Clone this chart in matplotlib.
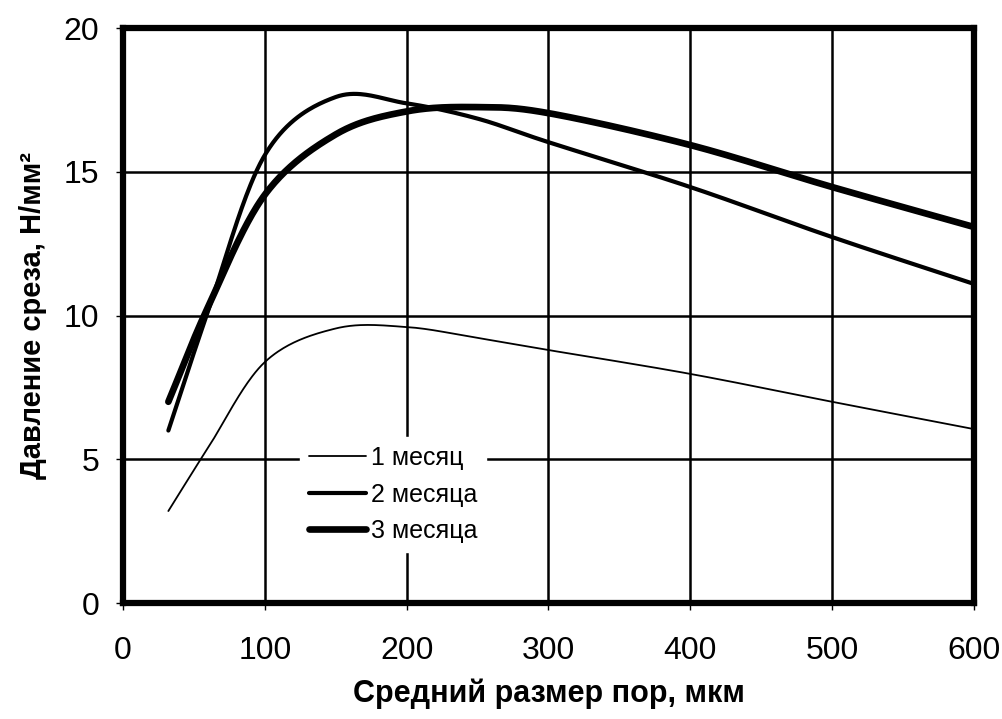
import matplotlib
matplotlib.use("Agg")
import matplotlib.pyplot as plt
import numpy as np

plt.rcParams['font.family'] = ['Liberation Sans', 'DejaVu Sans']

# values
pore_size = [32, 60, 100, 150, 200, 250, 300, 400, 500, 600]
month_1 = [3.2, 5.4, 8.38, 9.55, 9.6, 9.22, 8.8, 7.97, 7.0, 6.05]
month_2 = [6.0, 10.15, 15.58, 17.6, 17.38, 16.85, 16.03, 14.47, 12.73, 11.1]
month_3 = [7.0, 10.3, 14.2, 16.3, 17.1, 17.25, 17.04, 15.93, 14.47, 13.08]
labels = ["1 месяц", "2 месяца", "3 месяца"]
widths = [1.3, 3.0, 4.8]


# smoothed line like the spreadsheet does (Catmull-Rom through the points)
def smooth(xs, ys, n=40):
    xs = np.asarray(xs, float)
    ys = np.asarray(ys, float)
    px = np.concatenate([[2 * xs[0] - xs[1]], xs, [2 * xs[-1] - xs[-2]]])
    py = np.concatenate([[2 * ys[0] - ys[1]], ys, [2 * ys[-1] - ys[-2]]])
    outx, outy = [], []
    t = np.linspace(0, 1, n, endpoint=False)
    for i in range(1, len(px) - 2):
        for arr, out in ((px, outx), (py, outy)):
            p0, p1, p2, p3 = arr[i - 1], arr[i], arr[i + 1], arr[i + 2]
            out.extend(0.5 * (2 * p1 + (-p0 + p2) * t
                              + (2 * p0 - 5 * p1 + 4 * p2 - p3) * t ** 2
                              + (-p0 + 3 * p1 - 3 * p2 + p3) * t ** 3))
    outx.append(xs[-1])
    outy.append(ys[-1])
    return outx, outy


fig = plt.figure(figsize=(10.03, 7.19), dpi=100)
ax = fig.add_axes([0.1226, 0.1613, 0.8484, 0.7997])

for ys, lab, lw in zip([month_1, month_2, month_3], labels, widths):
    sx, sy = smooth(pore_size, ys)
    ax.plot(sx, sy, color="black", lw=lw, label=lab, solid_capstyle="round", zorder=3)

ax.set_xlim(0, 600)
ax.set_ylim(0, 20)
ax.set_xticks(range(0, 601, 100))
ax.set_yticks(range(0, 21, 5))
ax.grid(True, color="black", lw=1.8)
ax.set_axisbelow(True)
for sp in ax.spines.values():
    sp.set_linewidth(4.5)
ax.tick_params(direction="out", length=5, width=1, labelsize=23)
ax.tick_params(axis="x", pad=19)
ax.tick_params(axis="y", pad=12)

ax.set_xlabel("Средний размер пор, мкм", fontsize=22, fontweight="bold", labelpad=9)
ax.set_ylabel("Давление среза, Н/мм²", fontsize=21, fontweight="bold", labelpad=12)

leg = ax.legend(loc="center", bbox_to_anchor=(0.392, 0.312), bbox_transform=fig.transFigure,
                frameon=True, fontsize=18, handlelength=2.3, handletextpad=0.2,
                labelspacing=0.5, borderpad=0.35, fancybox=False)
leg.get_frame().set_facecolor("white")
leg.get_frame().set_edgecolor("white")
leg.get_frame().set_alpha(1)
leg.set_zorder(5)

fig.savefig("out.png", dpi=100)
